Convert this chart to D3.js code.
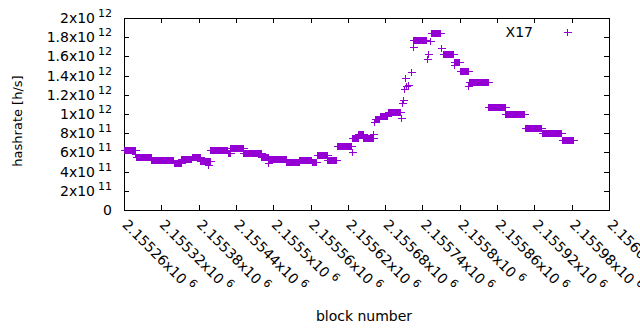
<!DOCTYPE html>
<html>
<head>
<meta charset="utf-8">
<script src="https://cdn.jsdelivr.net/npm/d3@7"></script>
<style>
  body { margin: 0; background: #fff; }
  text { font-family: "DejaVu Sans", sans-serif; fill: #000; }
</style>
</head>
<body>
<div id="chart"></div>
<script>
// flat runs of hashrate (one point per block)
var segStart = [2155260, 2155279, 2155304, 2155340, 2155352, 2155369, 2155383, 2155399, 2155427, 2155431,
  2155452, 2155481, 2155493, 2155521, 2155542, 2155562, 2155570, 2155587, 2155602, 2155626,
  2155637, 2155645, 2155664, 2155671, 2155684, 2155725, 2155753, 2155773, 2155791, 2155800,
  2155815, 2155846, 2155873, 2155905, 2155932, 2155964];
var segEnd = [2155277, 2155303, 2155339, 2155351, 2155368, 2155382, 2155398, 2155426, 2155430, 2155451,
  2155480, 2155492, 2155520, 2155541, 2155561, 2155569, 2155586, 2155601, 2155625, 2155636,
  2155644, 2155660, 2155670, 2155683, 2155704, 2155746, 2155768, 2155789, 2155799, 2155813,
  2155845, 2155872, 2155904, 2155930, 2155963, 2155982];
var segValue = [6.28e11, 5.47e11, 5.26e11, 4.90e11, 5.28e11, 5.52e11, 5.10e11, 6.25e11, 5.94e11, 6.46e11,
  5.94e11, 5.57e11, 5.31e11, 4.95e11, 5.20e11, 4.95e11, 5.73e11, 5.16e11, 6.67e11, 7.55e11,
  7.90e11, 7.50e11, 9.48e11, 9.79e11, 10.16e11, 17.66e11, 18.40e11, 16.20e11, 15.45e11, 14.43e11,
  13.30e11, 10.69e11, 9.97e11, 8.51e11, 7.99e11, 7.24e11];

// single blocks off the runs
var oddBlock = [2155278, 2155395, 2155492, 2155627, 2155661, 2155662, 2155705, 2155707, 2155709, 2155710,
  2155712, 2155713, 2155717, 2155721, 2155724, 2155748, 2155749, 2155752, 2155770, 2155790, 2155814];
var oddValue = [5.83e11, 4.70e11, 4.90e11, 6.07e11, 7.92e11, 9.20e11, 9.55e11, 11.10e11, 11.50e11, 12.57e11,
  13.72e11, 12.90e11, 13.00e11, 14.34e11, 17.01e11, 15.70e11, 16.20e11, 17.60e11, 16.90e11, 15.10e11, 12.90e11];

var xTicks = [2155260, 2155320, 2155380, 2155440, 2155500, 2155560, 2155620, 2155680, 2155740, 2155800,
  2155860, 2155920, 2155980, 2156040];
var xTickMant = ["2.15526", "2.15532", "2.15538", "2.15544", "2.1555", "2.15556", "2.15562", "2.15568",
  "2.15574", "2.1558", "2.15586", "2.15592", "2.15598", "2.15604"];
var yTicks = [0, 2e11, 4e11, 6e11, 8e11, 1e12, 1.2e12, 1.4e12, 1.6e12, 1.8e12, 2e12];
var yTickMant = ["0", "2", "4", "6", "8", "1", "1.2", "1.4", "1.6", "1.8", "2"];
var yTickExp = ["", "11", "11", "11", "11", "12", "12", "12", "12", "12", "12"];

var svgWidth = 640, svgHeight = 330;
var margin = {top: 18, right: 31, bottom: 120, left: 124};
var width = svgWidth - margin.left - margin.right;
var height = svgHeight - margin.top - margin.bottom;
var color = "#9400d3";

var svg = d3.select("#chart").append("svg")
  .attr("width", svgWidth).attr("height", svgHeight);

var g = svg.append("g").attr("transform", `translate(${margin.left}, ${margin.top})`);

var x = d3.scaleLinear().domain([2155260, 2156040]).range([0, width]);
var y = d3.scaleLinear().domain([0, 2e12]).range([height, 0]);

// expand runs into points
var points = [];
segStart.forEach(function(s, i) {
  for (var b = s; b <= segEnd[i]; b++) points.push({block: b, rate: segValue[i]});
});
oddBlock.forEach(function(b, i) { points.push({block: b, rate: oddValue[i]}); });

// ticks, inward on all four sides
var tickLen = 5;
var ticks = g.append("g").attr("stroke", "#000").attr("shape-rendering", "crispEdges");
xTicks.forEach(function(t) {
  var px = Math.round(x(t)) + 0.5;
  ticks.append("line").attr("x1", px).attr("x2", px).attr("y1", height).attr("y2", height - tickLen);
  ticks.append("line").attr("x1", px).attr("x2", px).attr("y1", 0).attr("y2", tickLen);
});
yTicks.forEach(function(t) {
  var py = Math.round(y(t)) + 0.5;
  ticks.append("line").attr("x1", 0).attr("x2", tickLen).attr("y1", py).attr("y2", py);
  ticks.append("line").attr("x1", width).attr("x2", width - tickLen).attr("y1", py).attr("y2", py);
});

// y tick labels
yTicks.forEach(function(t, i) {
  var lab = g.append("text")
    .attr("x", -12).attr("y", y(t)).attr("dy", "0.36em")
    .attr("text-anchor", "end").attr("font-size", 14)
    .text(yTickMant[i] + (yTickExp[i] ? "x10" : ""));
  if (yTickExp[i]) {
    lab.append("tspan").attr("dx", 3).attr("dy", -6).attr("font-size", 11).text(yTickExp[i]);
  }
});

// x tick labels, rotated
xTicks.forEach(function(t, i) {
  var lab = g.append("text")
    .attr("transform", `translate(${x(t) + 1}, ${height + 12}) rotate(45)`)
    .attr("dy", "0.36em").attr("font-size", 14)
    .text(xTickMant[i] + "x10");
  lab.append("tspan").attr("dx", 4).attr("dy", -6).attr("font-size", 11).text("6");
});

// border
g.append("rect")
  .attr("x", 0.5).attr("y", 0.5).attr("width", width).attr("height", height)
  .attr("fill", "none").attr("stroke", "#000").attr("shape-rendering", "crispEdges");

// points as "+"
function plus(px, py) {
  px = Math.round(px) + 0.5; py = Math.round(py) + 0.5;
  return `M${px - 4},${py}H${px + 4}M${px},${py - 3.5}V${py + 3.5}`;
}
g.append("path")
  .attr("d", points.map(d => plus(x(d.block), y(d.rate))).join(""))
  .attr("fill", "none").attr("stroke", color).attr("stroke-width", 1)
  .attr("shape-rendering", "crispEdges");

// legend
g.append("text")
  .attr("x", 533 - margin.left).attr("y", 32 - margin.top).attr("dy", "0.36em")
  .attr("text-anchor", "end").attr("font-size", 14).text("X17");
g.append("path")
  .attr("d", plus(567 - margin.left, 32 - margin.top))
  .attr("fill", "none").attr("stroke", color).attr("shape-rendering", "crispEdges");

// axis titles
svg.append("text")
  .attr("x", 364).attr("y", 321)
  .attr("text-anchor", "middle").attr("font-size", 14).text("block number");
svg.append("text")
  .attr("transform", "translate(22, 121) rotate(-90)")
  .attr("text-anchor", "middle").attr("font-size", 13).text("hashrate [h/s]");
</script>
</body>
</html>
